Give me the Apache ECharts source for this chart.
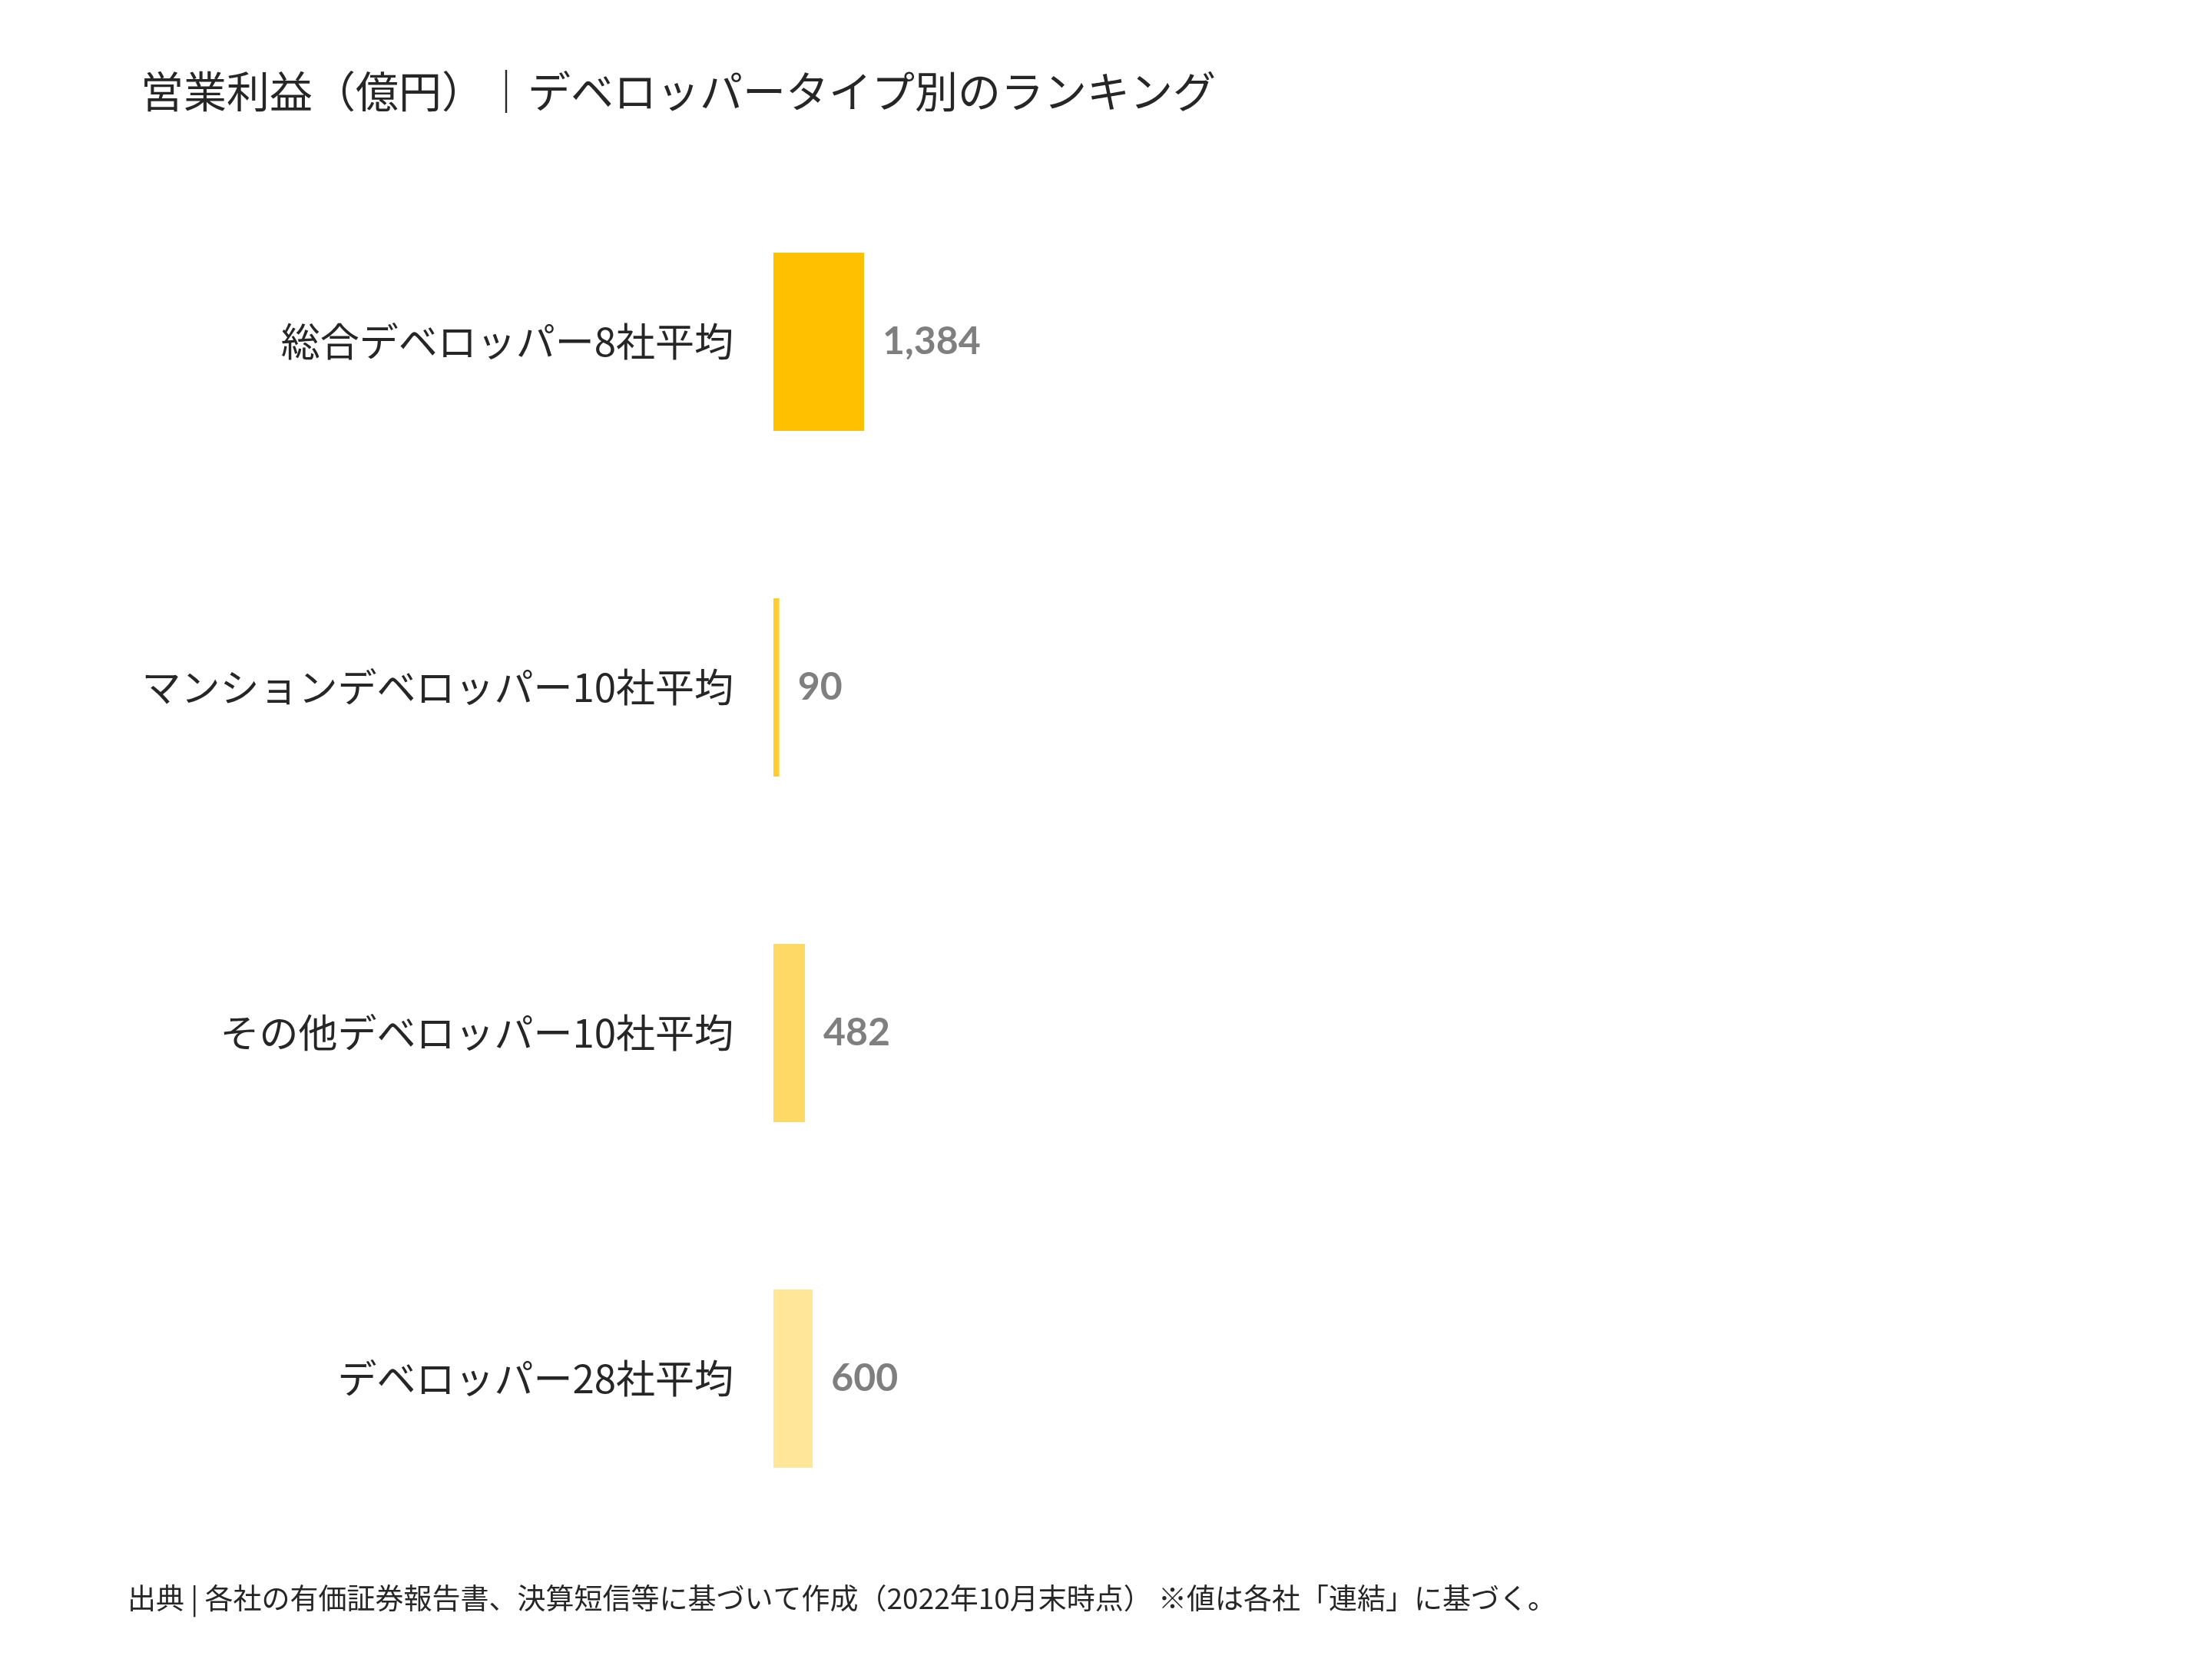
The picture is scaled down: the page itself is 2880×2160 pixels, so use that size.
<!DOCTYPE html>
<html>
<head>
<meta charset="utf-8">
<script src="https://cdn.jsdelivr.net/npm/echarts@6/dist/echarts.min.js"></script>
<style>
html,body{margin:0;padding:0;background:#fff;}
#chart{width:2880px;height:2160px;}
</style>
</head>
<body>
<div id="chart"></div>
<script>
const titleText = '営業利益（億円）｜デベロッパータイプ別のランキング';
const footnoteText = '出典 | 各社の有価証券報告書、決算短信等に基づいて作成（2022年10月末時点） ※値は各社「連結」に基づく。';
const categories = ['総合デベロッパー8社平均', 'マンションデベロッパー10社平均', 'その他デベロッパー10社平均', 'デベロッパー28社平均'];
const values = [1384, 90, 482, 600];

const barColors = ['#FFC000', '#FFCC33', '#FFD966', '#FFE699'];
const jpFont = '"Noto Sans CJK JP", "Noto Sans", sans-serif';

const chart = echarts.init(document.getElementById('chart'), null, {renderer: 'canvas'});
chart.setOption({
  backgroundColor: '#ffffff',
  animation: false,
  title: [
    {
      text: titleText,
      left: 183,
      top: 91,
      padding: 0,
      textStyle: {fontFamily: jpFont, fontSize: 56, fontWeight: 'normal', color: '#262626'}
    },
    {
      text: footnoteText,
      left: 166,
      top: 2062,
      padding: 0,
      textStyle: {fontFamily: jpFont, fontSize: 37, fontWeight: 'normal', color: '#262626'}
    }
  ],
  grid: {left: 1007, right: 167, top: 220, bottom: 140, containLabel: false},
  xAxis: {
    type: 'value', min: 0, max: 20000, show: false,
    splitLine: {show: false}
  },
  yAxis: {
    type: 'category',
    data: categories,
    inverse: true,
    axisLine: {show: false},
    axisTick: {show: false},
    splitLine: {show: false},
    axisLabel: {fontFamily: jpFont, fontSize: 51, color: '#262626', margin: 52}
  },
  series: [{
    type: 'bar',
    barWidth: 232,
    data: values.map((v, i) => ({value: v, itemStyle: {color: barColors[i]}})),
    label: {
      show: true,
      position: 'right',
      distance: 24,
      formatter: p => p.value.toLocaleString('en-US'),
      fontFamily: 'Lato, "Open Sans", sans-serif',
      fontWeight: 'bold',
      fontSize: 50,
      color: '#7F7F7F'
    }
  }]
});
</script>
</body>
</html>
